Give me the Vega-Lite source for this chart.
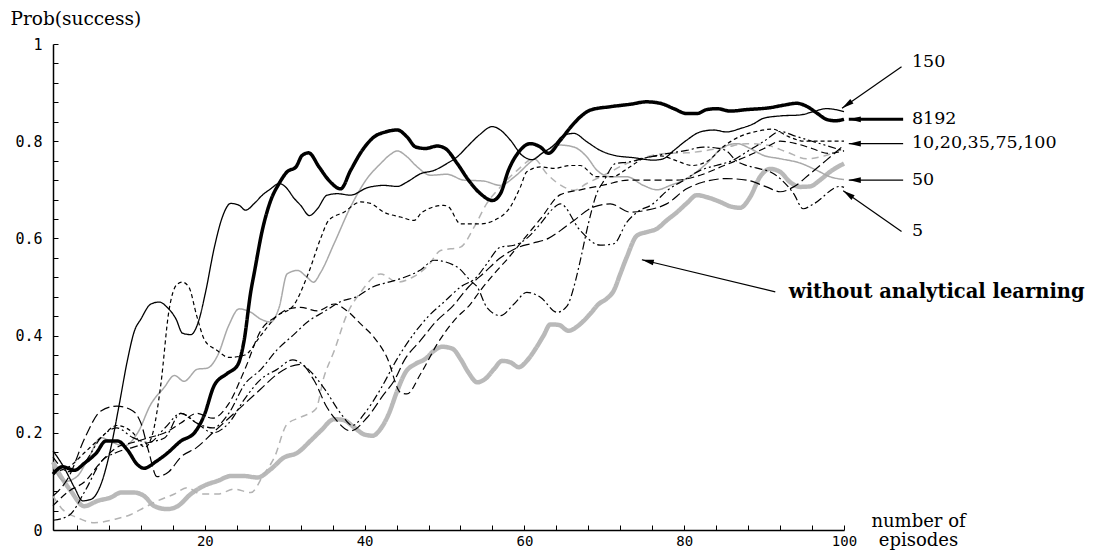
{
  "$schema": "https://vega.github.io/schema/vega-lite/v6.json",
  "width": 791,
  "height": 486,
  "autosize": "none",
  "padding": {"left": 53, "top": 44, "right": 253, "bottom": 20},
  "background": "white",
  "config": {"view": {"stroke": null}, "axis": {"grid": false}},
  "resolve": {"axis": {"x": "independent", "y": "independent"}},
  "datasets": {
    "runs": [
      {"run":"without","ep":1,"p":0.14},{"run":"without","ep":2,"p":0.11},{"run":"without","ep":3.25,"p":0.08},{"run":"without","ep":4.9,"p":0.049},{"run":"without","ep":6.6,"p":0.06},{"run":"without","ep":8.25,"p":0.067},{"run":"without","ep":9.5,"p":0.077},{"run":"without","ep":11.2,"p":0.077},{"run":"without","ep":12.4,"p":0.07},{"run":"without","ep":13.7,"p":0.049},{"run":"without","ep":15.3,"p":0.043},{"run":"without","ep":16.6,"p":0.049},{"run":"without","ep":18.25,"p":0.074},{"run":"without","ep":19.9,"p":0.091},{"run":"without","ep":21.6,"p":0.101},{"run":"without","ep":23.25,"p":0.111},{"run":"without","ep":24.9,"p":0.111},{"run":"without","ep":26.6,"p":0.108},{"run":"without","ep":28.25,"p":0.125},{"run":"without","ep":29.9,"p":0.149},{"run":"without","ep":31.6,"p":0.159},{"run":"without","ep":33.25,"p":0.184},{"run":"without","ep":34.5,"p":0.204},{"run":"without","ep":36.2,"p":0.228},{"run":"without","ep":37.4,"p":0.226},{"run":"without","ep":38.7,"p":0.211},{"run":"without","ep":39.9,"p":0.197},{"run":"without","ep":41,"p":0.194},{"run":"without","ep":42,"p":0.208},{"run":"without","ep":43,"p":0.238},{"run":"without","ep":44.1,"p":0.287},{"run":"without","ep":45.1,"p":0.324},{"run":"without","ep":46.4,"p":0.342},{"run":"without","ep":47.6,"p":0.352},{"run":"without","ep":48.7,"p":0.369},{"run":"without","ep":49.7,"p":0.377},{"run":"without","ep":51,"p":0.373},{"run":"without","ep":52,"p":0.352},{"run":"without","ep":53,"p":0.324},{"run":"without","ep":54.1,"p":0.304},{"run":"without","ep":55.1,"p":0.311},{"run":"without","ep":56.2,"p":0.331},{"run":"without","ep":57.2,"p":0.348},{"run":"without","ep":58.25,"p":0.345},{"run":"without","ep":59.3,"p":0.335},{"run":"without","ep":60.3,"p":0.348},{"run":"without","ep":61.4,"p":0.373},{"run":"without","ep":62.4,"p":0.4},{"run":"without","ep":63.25,"p":0.423},{"run":"without","ep":64.3,"p":0.422},{"run":"without","ep":65.5,"p":0.41},{"run":"without","ep":67,"p":0.424},{"run":"without","ep":68.25,"p":0.445},{"run":"without","ep":69.3,"p":0.465},{"run":"without","ep":70.3,"p":0.476},{"run":"without","ep":71.2,"p":0.493},{"run":"without","ep":72,"p":0.527},{"run":"without","ep":72.8,"p":0.561},{"run":"without","ep":74.1,"p":0.606},{"run":"without","ep":75.3,"p":0.613},{"run":"without","ep":76.6,"p":0.62},{"run":"without","ep":77.8,"p":0.637},{"run":"without","ep":79.1,"p":0.654},{"run":"without","ep":80.3,"p":0.672},{"run":"without","ep":81.6,"p":0.689},{"run":"without","ep":82.8,"p":0.685},{"run":"without","ep":84.5,"p":0.675},{"run":"without","ep":85.75,"p":0.666},{"run":"without","ep":87,"p":0.663},{"run":"without","ep":88.25,"p":0.685},{"run":"without","ep":89.5,"p":0.727},{"run":"without","ep":90.75,"p":0.743},{"run":"without","ep":92,"p":0.737},{"run":"without","ep":93.25,"p":0.716},{"run":"without","ep":94.5,"p":0.706},{"run":"without","ep":95.75,"p":0.707},{"run":"without","ep":97,"p":0.72},{"run":"without","ep":98.25,"p":0.737},{"run":"without","ep":100,"p":0.754},

      {"run":"50","ep":1,"p":0.13},{"run":"50","ep":2.5,"p":0.1},{"run":"50","ep":4,"p":0.11},{"run":"50","ep":5.5,"p":0.15},{"run":"50","ep":7,"p":0.19},{"run":"50","ep":8.5,"p":0.18},{"run":"50","ep":9.9,"p":0.173},{"run":"50","ep":11.6,"p":0.2},{"run":"50","ep":13.25,"p":0.259},{"run":"50","ep":14.9,"p":0.293},{"run":"50","ep":16.2,"p":0.318},{"run":"50","ep":17.4,"p":0.306},{"run":"50","ep":19.1,"p":0.331},{"run":"50","ep":20.3,"p":0.333},{"run":"50","ep":21.6,"p":0.359},{"run":"50","ep":23,"p":0.421},{"run":"50","ep":24.3,"p":0.455},{"run":"50","ep":25.75,"p":0.448},{"run":"50","ep":27,"p":0.434},{"run":"50","ep":28.25,"p":0.428},{"run":"50","ep":29.3,"p":0.458},{"run":"50","ep":30.3,"p":0.527},{"run":"50","ep":31.6,"p":0.534},{"run":"50","ep":32.8,"p":0.52},{"run":"50","ep":33.6,"p":0.51},{"run":"50","ep":34.5,"p":0.53},{"run":"50","ep":36.2,"p":0.59},{"run":"50","ep":38.25,"p":0.665},{"run":"50","ep":40.3,"p":0.723},{"run":"50","ep":42,"p":0.754},{"run":"50","ep":43.25,"p":0.773},{"run":"50","ep":44.1,"p":0.78},{"run":"50","ep":45.3,"p":0.768},{"run":"50","ep":46.6,"p":0.747},{"run":"50","ep":48.25,"p":0.73},{"run":"50","ep":50.3,"p":0.732},{"run":"50","ep":52.4,"p":0.72},{"run":"50","ep":54.9,"p":0.718},{"run":"50","ep":57,"p":0.709},{"run":"50","ep":58.7,"p":0.726},{"run":"50","ep":60.75,"p":0.757},{"run":"50","ep":62.8,"p":0.781},{"run":"50","ep":64.5,"p":0.792},{"run":"50","ep":66.2,"p":0.788},{"run":"50","ep":67.8,"p":0.768},{"run":"50","ep":69.1,"p":0.74},{"run":"50","ep":70.75,"p":0.727},{"run":"50","ep":72.8,"p":0.727},{"run":"50","ep":74.9,"p":0.709},{"run":"50","ep":76.6,"p":0.7},{"run":"50","ep":78.25,"p":0.709},{"run":"50","ep":80.3,"p":0.723},{"run":"50","ep":82.8,"p":0.754},{"run":"50","ep":84.9,"p":0.788},{"run":"50","ep":86.6,"p":0.795},{"run":"50","ep":88.25,"p":0.785},{"run":"50","ep":89.9,"p":0.771},{"run":"50","ep":92,"p":0.764},{"run":"50","ep":94.5,"p":0.755},{"run":"50","ep":96.6,"p":0.74},{"run":"50","ep":98.25,"p":0.727},{"run":"50","ep":100,"p":0.721},

      {"run":"10","ep":1,"p":0.07},{"run":"10","ep":2,"p":0.046},{"run":"10","ep":4.1,"p":0.025},{"run":"10","ep":6.2,"p":0.015},{"run":"10","ep":8.7,"p":0.022},{"run":"10","ep":10.75,"p":0.032},{"run":"10","ep":12.4,"p":0.046},{"run":"10","ep":14.1,"p":0.06},{"run":"10","ep":16.2,"p":0.074},{"run":"10","ep":17.8,"p":0.087},{"run":"10","ep":19.5,"p":0.074},{"run":"10","ep":21.6,"p":0.074},{"run":"10","ep":23.7,"p":0.084},{"run":"10","ep":25.75,"p":0.077},{"run":"10","ep":27.4,"p":0.115},{"run":"10","ep":28.7,"p":0.149},{"run":"10","ep":30.3,"p":0.218},{"run":"10","ep":32,"p":0.232},{"run":"10","ep":33.9,"p":0.249},{"run":"10","ep":34.9,"p":0.314},{"run":"10","ep":36.2,"p":0.369},{"run":"10","ep":37.8,"p":0.444},{"run":"10","ep":39.5,"p":0.489},{"run":"10","ep":42,"p":0.527},{"run":"10","ep":44.1,"p":0.51},{"run":"10","ep":46,"p":0.52},{"run":"10","ep":48,"p":0.545},{"run":"10","ep":49.5,"p":0.575},{"run":"10","ep":52,"p":0.582},{"run":"10","ep":53.7,"p":0.623},{"run":"10","ep":55.3,"p":0.672},{"run":"10","ep":57,"p":0.706},{"run":"10","ep":59.1,"p":0.74},{"run":"10","ep":61.2,"p":0.764},{"run":"10","ep":62.8,"p":0.733},{"run":"10","ep":64.9,"p":0.706},{"run":"10","ep":66.2,"p":0.699},{"run":"10","ep":67.8,"p":0.713},{"run":"10","ep":70.3,"p":0.733},{"run":"10","ep":72.8,"p":0.754},{"run":"10","ep":75.3,"p":0.768},{"run":"10","ep":77.8,"p":0.775},{"run":"10","ep":80.3,"p":0.776},{"run":"10","ep":82.8,"p":0.781},{"run":"10","ep":85.3,"p":0.788},{"run":"10","ep":87.8,"p":0.795},{"run":"10","ep":90.3,"p":0.792},{"run":"10","ep":92.8,"p":0.778},{"run":"10","ep":95.3,"p":0.764},{"run":"10","ep":97.8,"p":0.771},{"run":"10","ep":100,"p":0.785},

      {"run":"20","ep":1,"p":0.12},{"run":"20","ep":3,"p":0.13},{"run":"20","ep":5,"p":0.16},{"run":"20","ep":7,"p":0.19},{"run":"20","ep":9,"p":0.215},{"run":"20","ep":11,"p":0.2},{"run":"20","ep":12.5,"p":0.17},{"run":"20","ep":13.5,"p":0.2},{"run":"20","ep":14.5,"p":0.3},{"run":"20","ep":15.5,"p":0.45},{"run":"20","ep":16.5,"p":0.505},{"run":"20","ep":17.2,"p":0.51},{"run":"20","ep":18,"p":0.5},{"run":"20","ep":19,"p":0.44},{"run":"20","ep":20,"p":0.39},{"run":"20","ep":21.5,"p":0.37},{"run":"20","ep":23,"p":0.355},{"run":"20","ep":25,"p":0.36},{"run":"20","ep":27,"p":0.4},{"run":"20","ep":29,"p":0.44},{"run":"20","ep":31,"p":0.46},{"run":"20","ep":33,"p":0.53},{"run":"20","ep":34.5,"p":0.6},{"run":"20","ep":35.5,"p":0.637},{"run":"20","ep":37.4,"p":0.654},{"run":"20","ep":39.5,"p":0.675},{"run":"20","ep":40.75,"p":0.672},{"run":"20","ep":42.4,"p":0.654},{"run":"20","ep":44.5,"p":0.644},{"run":"20","ep":46.2,"p":0.637},{"run":"20","ep":47.2,"p":0.654},{"run":"20","ep":49.9,"p":0.668},{"run":"20","ep":50.5,"p":0.665},{"run":"20","ep":52,"p":0.63},{"run":"20","ep":54.5,"p":0.63},{"run":"20","ep":56.2,"p":0.637},{"run":"20","ep":58.25,"p":0.665},{"run":"20","ep":59.5,"p":0.706},{"run":"20","ep":60.3,"p":0.737},{"run":"20","ep":62,"p":0.747},{"run":"20","ep":63.7,"p":0.744},{"run":"20","ep":65.75,"p":0.75},{"run":"20","ep":67,"p":0.75},{"run":"20","ep":69,"p":0.727},{"run":"20","ep":71,"p":0.727},{"run":"20","ep":73,"p":0.745},{"run":"20","ep":75,"p":0.765},{"run":"20","ep":77,"p":0.77},{"run":"20","ep":79,"p":0.76},{"run":"20","ep":81,"p":0.75},{"run":"20","ep":83,"p":0.76},{"run":"20","ep":85,"p":0.79},{"run":"20","ep":87,"p":0.81},{"run":"20","ep":89,"p":0.82},{"run":"20","ep":91,"p":0.825},{"run":"20","ep":93,"p":0.81},{"run":"20","ep":95,"p":0.8},{"run":"20","ep":97,"p":0.8},{"run":"20","ep":100,"p":0.8},

      {"run":"35","ep":1,"p":0.07},{"run":"35","ep":3,"p":0.11},{"run":"35","ep":5,"p":0.19},{"run":"35","ep":7,"p":0.245},{"run":"35","ep":9,"p":0.255},{"run":"35","ep":11,"p":0.245},{"run":"35","ep":12,"p":0.22},{"run":"35","ep":13,"p":0.16},{"run":"35","ep":14,"p":0.11},{"run":"35","ep":15.5,"p":0.12},{"run":"35","ep":17,"p":0.15},{"run":"35","ep":19,"p":0.17},{"run":"35","ep":21,"p":0.2},{"run":"35","ep":23,"p":0.23},{"run":"35","ep":25,"p":0.26},{"run":"35","ep":27,"p":0.29},{"run":"35","ep":29,"p":0.32},{"run":"35","ep":30.5,"p":0.335},{"run":"35","ep":32,"p":0.341},{"run":"35","ep":33.7,"p":0.307},{"run":"35","ep":35.3,"p":0.252},{"run":"35","ep":36.2,"p":0.231},{"run":"35","ep":38.25,"p":0.204},{"run":"35","ep":40.3,"p":0.231},{"run":"35","ep":42.4,"p":0.279},{"run":"35","ep":43.7,"p":0.307},{"run":"35","ep":45,"p":0.35},{"run":"35","ep":47,"p":0.39},{"run":"35","ep":49,"p":0.43},{"run":"35","ep":51,"p":0.46},{"run":"35","ep":53,"p":0.5},{"run":"35","ep":55,"p":0.53},{"run":"35","ep":57,"p":0.56},{"run":"35","ep":59,"p":0.58},{"run":"35","ep":61,"p":0.59},{"run":"35","ep":63,"p":0.6},{"run":"35","ep":64.5,"p":0.616},{"run":"35","ep":66.2,"p":0.637},{"run":"35","ep":68.7,"p":0.665},{"run":"35","ep":70.75,"p":0.671},{"run":"35","ep":73.25,"p":0.654},{"run":"35","ep":75.3,"p":0.658},{"run":"35","ep":77.8,"p":0.671},{"run":"35","ep":80.3,"p":0.702},{"run":"35","ep":82.4,"p":0.716},{"run":"35","ep":85.3,"p":0.723},{"run":"35","ep":87.8,"p":0.72},{"run":"35","ep":90.3,"p":0.706},{"run":"35","ep":92,"p":0.696},{"run":"35","ep":93.7,"p":0.706},{"run":"35","ep":95.75,"p":0.733},{"run":"35","ep":97.8,"p":0.761},{"run":"35","ep":100,"p":0.792},

      {"run":"75","ep":1,"p":0.05},{"run":"75","ep":3,"p":0.08},{"run":"75","ep":5,"p":0.1},{"run":"75","ep":7,"p":0.14},{"run":"75","ep":9,"p":0.17},{"run":"75","ep":11,"p":0.18},{"run":"75","ep":13,"p":0.19},{"run":"75","ep":15,"p":0.2},{"run":"75","ep":17,"p":0.22},{"run":"75","ep":19,"p":0.24},{"run":"75","ep":21,"p":0.23},{"run":"75","ep":23,"p":0.26},{"run":"75","ep":25,"p":0.33},{"run":"75","ep":27,"p":0.41},{"run":"75","ep":29,"p":0.44},{"run":"75","ep":30.5,"p":0.455},{"run":"75","ep":32,"p":0.458},{"run":"75","ep":34.1,"p":0.451},{"run":"75","ep":36.2,"p":0.465},{"run":"75","ep":37.8,"p":0.451},{"run":"75","ep":39.5,"p":0.424},{"run":"75","ep":41.2,"p":0.396},{"run":"75","ep":42.8,"p":0.355},{"run":"75","ep":44.5,"p":0.283},{"run":"75","ep":45.3,"p":0.28},{"run":"75","ep":47,"p":0.321},{"run":"75","ep":49.1,"p":0.383},{"run":"75","ep":51.2,"p":0.431},{"run":"75","ep":53.25,"p":0.465},{"run":"75","ep":54.5,"p":0.493},{"run":"75","ep":56.2,"p":0.527},{"run":"75","ep":58,"p":0.56},{"run":"75","ep":60,"p":0.6},{"run":"75","ep":62,"p":0.64},{"run":"75","ep":64.5,"p":0.69},{"run":"75","ep":67,"p":0.7},{"run":"75","ep":70,"p":0.71},{"run":"75","ep":73,"p":0.72},{"run":"75","ep":76,"p":0.72},{"run":"75","ep":79,"p":0.72},{"run":"75","ep":82,"p":0.73},{"run":"75","ep":85,"p":0.75},{"run":"75","ep":88,"p":0.77},{"run":"75","ep":90,"p":0.785},{"run":"75","ep":92,"p":0.8},{"run":"75","ep":94,"p":0.795},{"run":"75","ep":96,"p":0.785},{"run":"75","ep":98,"p":0.775},{"run":"75","ep":100,"p":0.78},

      {"run":"5","ep":1,"p":0.02},{"run":"5","ep":3,"p":0.03},{"run":"5","ep":5,"p":0.08},{"run":"5","ep":7,"p":0.14},{"run":"5","ep":9,"p":0.16},{"run":"5","ep":11,"p":0.17},{"run":"5","ep":13,"p":0.18},{"run":"5","ep":15,"p":0.19},{"run":"5","ep":17,"p":0.24},{"run":"5","ep":19,"p":0.22},{"run":"5","ep":21,"p":0.21},{"run":"5","ep":23,"p":0.24},{"run":"5","ep":25,"p":0.3},{"run":"5","ep":27,"p":0.33},{"run":"5","ep":29,"p":0.37},{"run":"5","ep":31,"p":0.4},{"run":"5","ep":33,"p":0.43},{"run":"5","ep":35,"p":0.45},{"run":"5","ep":37,"p":0.47},{"run":"5","ep":39,"p":0.48},{"run":"5","ep":41,"p":0.5},{"run":"5","ep":43,"p":0.51},{"run":"5","ep":45,"p":0.52},{"run":"5","ep":47,"p":0.535},{"run":"5","ep":48.7,"p":0.555},{"run":"5","ep":51.6,"p":0.541},{"run":"5","ep":53.25,"p":0.513},{"run":"5","ep":54.1,"p":0.5},{"run":"5","ep":55.3,"p":0.458},{"run":"5","ep":57,"p":0.441},{"run":"5","ep":58.7,"p":0.465},{"run":"5","ep":60.3,"p":0.489},{"run":"5","ep":62,"p":0.479},{"run":"5","ep":64.1,"p":0.448},{"run":"5","ep":65.3,"p":0.46},{"run":"5","ep":66.4,"p":0.513},{"run":"5","ep":67,"p":0.555},{"run":"5","ep":68,"p":0.63},{"run":"5","ep":69,"p":0.69},{"run":"5","ep":70,"p":0.72},{"run":"5","ep":71.4,"p":0.754},{"run":"5","ep":73,"p":0.757},{"run":"5","ep":75,"p":0.765},{"run":"5","ep":78,"p":0.775},{"run":"5","ep":80.3,"p":0.781},{"run":"5","ep":82.4,"p":0.788},{"run":"5","ep":84,"p":0.786},{"run":"5","ep":85.3,"p":0.78},{"run":"5","ep":86.5,"p":0.76},{"run":"5","ep":87.8,"p":0.75},{"run":"5","ep":89,"p":0.745},{"run":"5","ep":91.2,"p":0.733},{"run":"5","ep":93.7,"p":0.692},{"run":"5","ep":94.9,"p":0.661},{"run":"5","ep":96.2,"p":0.671},{"run":"5","ep":99.5,"p":0.707},{"run":"5","ep":100,"p":0.705},

      {"run":"100","ep":1,"p":0.15},{"run":"100","ep":3,"p":0.12},{"run":"100","ep":5,"p":0.14},{"run":"100","ep":7,"p":0.19},{"run":"100","ep":9,"p":0.21},{"run":"100","ep":11,"p":0.19},{"run":"100","ep":13,"p":0.18},{"run":"100","ep":15,"p":0.21},{"run":"100","ep":17,"p":0.24},{"run":"100","ep":19,"p":0.22},{"run":"100","ep":21,"p":0.2},{"run":"100","ep":23,"p":0.22},{"run":"100","ep":25,"p":0.27},{"run":"100","ep":27,"p":0.31},{"run":"100","ep":29,"p":0.33},{"run":"100","ep":31,"p":0.35},{"run":"100","ep":33,"p":0.33},{"run":"100","ep":35,"p":0.29},{"run":"100","ep":37,"p":0.24},{"run":"100","ep":38.5,"p":0.215},{"run":"100","ep":40,"p":0.24},{"run":"100","ep":42,"p":0.29},{"run":"100","ep":44,"p":0.35},{"run":"100","ep":46,"p":0.4},{"run":"100","ep":48,"p":0.44},{"run":"100","ep":50,"p":0.47},{"run":"100","ep":52,"p":0.5},{"run":"100","ep":54,"p":0.52},{"run":"100","ep":55.3,"p":0.548},{"run":"100","ep":57,"p":0.582},{"run":"100","ep":58.7,"p":0.586},{"run":"100","ep":60.3,"p":0.6},{"run":"100","ep":62,"p":0.63},{"run":"100","ep":63.5,"p":0.66},{"run":"100","ep":64.5,"p":0.671},{"run":"100","ep":67,"p":0.616},{"run":"100","ep":69.5,"p":0.586},{"run":"100","ep":71.2,"p":0.589},{"run":"100","ep":72.8,"p":0.633},{"run":"100","ep":74.1,"p":0.654},{"run":"100","ep":76,"p":0.67},{"run":"100","ep":78,"p":0.7},{"run":"100","ep":80,"p":0.72},{"run":"100","ep":82,"p":0.74},{"run":"100","ep":84,"p":0.75},{"run":"100","ep":86,"p":0.76},{"run":"100","ep":88,"p":0.78},{"run":"100","ep":90,"p":0.8},{"run":"100","ep":92,"p":0.82},{"run":"100","ep":94,"p":0.81},{"run":"100","ep":96,"p":0.8},{"run":"100","ep":98,"p":0.79},{"run":"100","ep":100,"p":0.78},

      {"run":"150","ep":1,"p":0.163},{"run":"150","ep":2.4,"p":0.128},{"run":"150","ep":3.7,"p":0.087},{"run":"150","ep":4.7,"p":0.06},{"run":"150","ep":5.75,"p":0.063},{"run":"150","ep":7,"p":0.094},{"run":"150","ep":8.25,"p":0.17},{"run":"150","ep":9.3,"p":0.259},{"run":"150","ep":10.3,"p":0.348},{"run":"150","ep":11.2,"p":0.41},{"run":"150","ep":12,"p":0.434},{"run":"150","ep":13.25,"p":0.465},{"run":"150","ep":14.3,"p":0.469},{"run":"150","ep":15.3,"p":0.458},{"run":"150","ep":16.4,"p":0.434},{"run":"150","ep":17.2,"p":0.405},{"run":"150","ep":18.25,"p":0.402},{"run":"150","ep":19.3,"p":0.434},{"run":"150","ep":20.1,"p":0.49},{"run":"150","ep":21.2,"p":0.582},{"run":"150","ep":22.2,"p":0.644},{"run":"150","ep":23.25,"p":0.672},{"run":"150","ep":24.3,"p":0.668},{"run":"150","ep":25.1,"p":0.658},{"run":"150","ep":26.2,"p":0.672},{"run":"150","ep":27.2,"p":0.689},{"run":"150","ep":28.25,"p":0.702},{"run":"150","ep":29.3,"p":0.713},{"run":"150","ep":30.1,"p":0.706},{"run":"150","ep":31.2,"p":0.682},{"run":"150","ep":32,"p":0.668},{"run":"150","ep":33.1,"p":0.647},{"run":"150","ep":34.1,"p":0.661},{"run":"150","ep":35.3,"p":0.689},{"run":"150","ep":36.6,"p":0.692},{"run":"150","ep":38.25,"p":0.689},{"run":"150","ep":40.3,"p":0.704},{"run":"150","ep":42.4,"p":0.709},{"run":"150","ep":44.1,"p":0.707},{"run":"150","ep":45.3,"p":0.716},{"run":"150","ep":47,"p":0.733},{"run":"150","ep":48.7,"p":0.74},{"run":"150","ep":50.3,"p":0.754},{"run":"150","ep":51.6,"p":0.768},{"run":"150","ep":52.8,"p":0.788},{"run":"150","ep":54.3,"p":0.812},{"run":"150","ep":56,"p":0.83},{"run":"150","ep":57,"p":0.823},{"run":"150","ep":58.25,"p":0.802},{"run":"150","ep":59.7,"p":0.771},{"run":"150","ep":61,"p":0.762},{"run":"150","ep":62.2,"p":0.775},{"run":"150","ep":63.7,"p":0.792},{"run":"150","ep":64.9,"p":0.812},{"run":"150","ep":66.2,"p":0.816},{"run":"150","ep":67.8,"p":0.799},{"run":"150","ep":69.5,"p":0.781},{"run":"150","ep":71.2,"p":0.771},{"run":"150","ep":73.7,"p":0.766},{"run":"150","ep":76.2,"p":0.761},{"run":"150","ep":77.4,"p":0.764},{"run":"150","ep":78.7,"p":0.781},{"run":"150","ep":80.3,"p":0.802},{"run":"150","ep":82,"p":0.819},{"run":"150","ep":83.7,"p":0.823},{"run":"150","ep":85.3,"p":0.819},{"run":"150","ep":87,"p":0.826},{"run":"150","ep":88.7,"p":0.836},{"run":"150","ep":89.9,"p":0.847},{"run":"150","ep":92,"p":0.852},{"run":"150","ep":94.5,"p":0.854},{"run":"150","ep":96.2,"p":0.861},{"run":"150","ep":97.8,"p":0.867},{"run":"150","ep":100,"p":0.861},

      {"run":"8192","ep":1,"p":0.115},{"run":"8192","ep":2.2,"p":0.13},{"run":"8192","ep":3.7,"p":0.123},{"run":"8192","ep":4.9,"p":0.137},{"run":"8192","ep":6.4,"p":0.158},{"run":"8192","ep":7.6,"p":0.183},{"run":"8192","ep":9.1,"p":0.183},{"run":"8192","ep":10.3,"p":0.165},{"run":"8192","ep":11.6,"p":0.134},{"run":"8192","ep":12.4,"p":0.127},{"run":"8192","ep":13.9,"p":0.141},{"run":"8192","ep":15.3,"p":0.158},{"run":"8192","ep":17,"p":0.183},{"run":"8192","ep":18.7,"p":0.2},{"run":"8192","ep":19.9,"p":0.235},{"run":"8192","ep":21.2,"p":0.298},{"run":"8192","ep":22.8,"p":0.322},{"run":"8192","ep":24.1,"p":0.339},{"run":"8192","ep":24.9,"p":0.388},{"run":"8192","ep":25.75,"p":0.49},{"run":"8192","ep":26.2,"p":0.53},{"run":"8192","ep":27.2,"p":0.617},{"run":"8192","ep":28.25,"p":0.678},{"run":"8192","ep":29.3,"p":0.713},{"run":"8192","ep":30.3,"p":0.737},{"run":"8192","ep":31.4,"p":0.747},{"run":"8192","ep":32.2,"p":0.771},{"run":"8192","ep":33,"p":0.776},{"run":"8192","ep":34.3,"p":0.747},{"run":"8192","ep":35.5,"p":0.72},{"run":"8192","ep":37,"p":0.702},{"run":"8192","ep":38.25,"p":0.74},{"run":"8192","ep":39.7,"p":0.781},{"run":"8192","ep":41.2,"p":0.809},{"run":"8192","ep":42.6,"p":0.819},{"run":"8192","ep":44.1,"p":0.823},{"run":"8192","ep":45.3,"p":0.809},{"run":"8192","ep":46.4,"p":0.788},{"run":"8192","ep":47.6,"p":0.785},{"run":"8192","ep":49.1,"p":0.79},{"run":"8192","ep":50.1,"p":0.785},{"run":"8192","ep":51.6,"p":0.754},{"run":"8192","ep":53,"p":0.72},{"run":"8192","ep":54.5,"p":0.692},{"run":"8192","ep":56,"p":0.678},{"run":"8192","ep":57,"p":0.692},{"run":"8192","ep":58,"p":0.74},{"run":"8192","ep":59.3,"p":0.778},{"run":"8192","ep":60.75,"p":0.795},{"run":"8192","ep":62,"p":0.788},{"run":"8192","ep":63,"p":0.775},{"run":"8192","ep":64.5,"p":0.802},{"run":"8192","ep":65.75,"p":0.828},{"run":"8192","ep":67,"p":0.85},{"run":"8192","ep":68.25,"p":0.864},{"run":"8192","ep":70.75,"p":0.871},{"run":"8192","ep":73.25,"p":0.876},{"run":"8192","ep":75.3,"p":0.881},{"run":"8192","ep":77,"p":0.878},{"run":"8192","ep":78.7,"p":0.867},{"run":"8192","ep":80.3,"p":0.857},{"run":"8192","ep":81.6,"p":0.857},{"run":"8192","ep":82.8,"p":0.865},{"run":"8192","ep":84.1,"p":0.867},{"run":"8192","ep":85.75,"p":0.862},{"run":"8192","ep":87.8,"p":0.865},{"run":"8192","ep":90.75,"p":0.869},{"run":"8192","ep":92.4,"p":0.874},{"run":"8192","ep":94.1,"p":0.878},{"run":"8192","ep":95.3,"p":0.872},{"run":"8192","ep":96.6,"p":0.858},{"run":"8192","ep":97.8,"p":0.845},{"run":"8192","ep":98.9,"p":0.842},{"run":"8192","ep":100,"p":0.845}
    ],
    "arrows": [
      {"lab":"150","ep":107.2,"p":0.953,"ep2":99.75,"p2":0.868,"ang":235.3},
      {"lab":"8192","ep":107.4,"p":0.845,"ep2":100.6,"p2":0.845,"ang":270},
      {"lab":"10,20,35,75,100","ep":107.4,"p":0.795,"ep2":100.6,"p2":0.795,"ang":270},
      {"lab":"50","ep":107.4,"p":0.72,"ep2":100.6,"p2":0.72,"ang":270},
      {"lab":"5","ep":107.2,"p":0.614,"ep2":99.9,"p2":0.698,"ang":304.9},
      {"lab":"without analytical learning","ep":91.4,"p":0.49,"ep2":74.7,"p2":0.556,"ang":283.4}
    ],
    "labels": [
      {"lab":"150","ep":108.5,"p":0.963},
      {"lab":"8192","ep":108.5,"p":0.845},
      {"lab":"10,20,35,75,100","ep":108.5,"p":0.796},
      {"lab":"50","ep":108.5,"p":0.72},
      {"lab":"5","ep":108.5,"p":0.615}
    ]
  },
  "layer": [
    {
      "data": {"name": "runs"},
      "mark": {"type": "line", "interpolate": "monotone", "clip": false},
      "encoding": {
        "x": {
          "field": "ep", "type": "quantitative",
          "scale": {"domain": [1, 100], "nice": false, "zero": false},
          "axis": {
            "values": [4,8,12,16,20,24,28,32,36,40,44,48,52,56,60,64,68,72,76,80,84,88,92,96,100],
            "labelExpr": "datum.value % 20 === 0 ? datum.label : ''",
            "tickSize": -5, "tickColor": "black", "tickWidth": 1,
            "domainColor": "black", "domainWidth": 1.5,
            "labelFont": "DejaVu Sans Mono", "labelFontSize": 14, "labelColor": "black",
            "labelPadding": 9, "labelFlush": false, "labelOverlap": false, "labelBaseline": "top",
            "title": ["number of", "episodes"],
            "titleFont": "DejaVu Serif", "titleFontSize": 18, "titleFontWeight": "normal", "titleColor": "black",
            "titleAlign": "center", "titleBaseline": "top", "titleX": 865, "titleY": -18, "titleLineHeight": 19, "titleAngle": 0
          }
        },
        "y": {
          "field": "p", "type": "quantitative",
          "scale": {"domain": [0, 1], "nice": false},
          "axis": {
            "values": [0,0.04,0.08,0.12,0.16,0.2,0.24,0.28,0.32,0.36,0.4,0.44,0.48,0.52,0.56,0.6,0.64,0.68,0.72,0.76,0.8,0.84,0.88,0.92,0.96,1],
            "labelExpr": "round(datum.value*100) % 20 == 0 ? (datum.value == 0 ? '0' : (datum.value == 1 ? '1' : format(datum.value, '.1f'))) : ''",
            "tickSize": -5, "tickColor": "black", "tickWidth": 1,
            "domainColor": "black", "domainWidth": 1.5,
            "labelFont": "DejaVu Sans Mono", "labelFontSize": 15, "labelColor": "black",
            "labelPadding": 16, "labelFlush": false, "labelOverlap": false,
            "title": "Prob(success)",
            "titleFont": "DejaVu Serif", "titleFontSize": 18.5, "titleFontWeight": "normal", "titleColor": "black",
            "titleAngle": 0, "titleAlign": "left", "titleBaseline": "middle", "titleX": -43, "titleY": -26
          }
        },
        "color": {
          "field": "run", "type": "nominal", "legend": null,
          "scale": {"type": "ordinal", "domain": ["without","50","10","20","35","75","5","100","150","8192"],
                    "range": ["#b9b9b9","#a9a9a9","#b3b3b3","#000000","#000000","#000000","#000000","#000000","#000000","#000000"]}
        },
        "strokeWidth": {
          "field": "run", "type": "nominal", "legend": null,
          "scale": {"type": "ordinal", "domain": ["without","50","10","20","35","75","5","100","150","8192"],
                    "range": [4.5,1.5,1.5,1.2,1.2,1.2,1.2,1.2,1.3,3.5]}
        },
        "strokeDash": {
          "field": "run", "type": "nominal", "legend": null,
          "scale": {"type": "ordinal", "domain": ["without","50","10","20","35","75","5","100","150","8192"],
                    "range": [[1,0],[1,0],[7,5],[4,3],[10,4],[7,4],[8,3,2,3],[8,3,2,3,2,3],[1,0],[1,0]]}
        }
      }
    },
    {
      "data": {"name": "arrows"},
      "transform": [{"filter": "datum.lab != '8192'"}],
      "mark": {"type": "rule", "color": "black", "strokeWidth": 1.2, "clip": false},
      "encoding": {
        "x": {"field": "ep", "type": "quantitative", "axis": null},
        "y": {"field": "p", "type": "quantitative", "axis": null},
        "x2": {"field": "ep2"},
        "y2": {"field": "p2"}
      }
    },
    {
      "data": {"name": "arrows"},
      "transform": [{"filter": "datum.lab == '8192'"}],
      "mark": {"type": "rule", "color": "black", "strokeWidth": 3, "clip": false},
      "encoding": {
        "x": {"field": "ep", "type": "quantitative", "axis": null},
        "y": {"field": "p", "type": "quantitative", "axis": null},
        "x2": {"field": "ep2"},
        "y2": {"field": "p2"}
      }
    },
    {
      "data": {"name": "arrows"},
      "mark": {"type": "point", "shape": "M0,0L0.7,3L-0.7,3Z", "filled": true, "color": "black", "opacity": 1, "size": 64, "strokeWidth": 0, "clip": false},
      "encoding": {
        "x": {"field": "ep2", "type": "quantitative", "axis": null},
        "y": {"field": "p2", "type": "quantitative", "axis": null},
        "angle": {"field": "ang", "type": "quantitative", "scale": null}
      }
    },
    {
      "data": {"name": "labels"},
      "mark": {"type": "text", "align": "left", "baseline": "middle", "font": "DejaVu Serif", "fontSize": 17.5, "color": "black", "clip": false},
      "encoding": {
        "x": {"field": "ep", "type": "quantitative", "axis": null},
        "y": {"field": "p", "type": "quantitative", "axis": null},
        "text": {"field": "lab"}
      }
    },
    {
      "data": {"values": [{"lab": "without analytical learning", "ep": 93.1, "p": 0.49}]},
      "mark": {"type": "text", "align": "left", "baseline": "middle", "font": "DejaVu Serif", "fontSize": 19.5, "fontWeight": "bold", "color": "black", "clip": false},
      "encoding": {
        "x": {"field": "ep", "type": "quantitative", "axis": null},
        "y": {"field": "p", "type": "quantitative", "axis": null},
        "text": {"field": "lab"}
      }
    }
  ]
}
